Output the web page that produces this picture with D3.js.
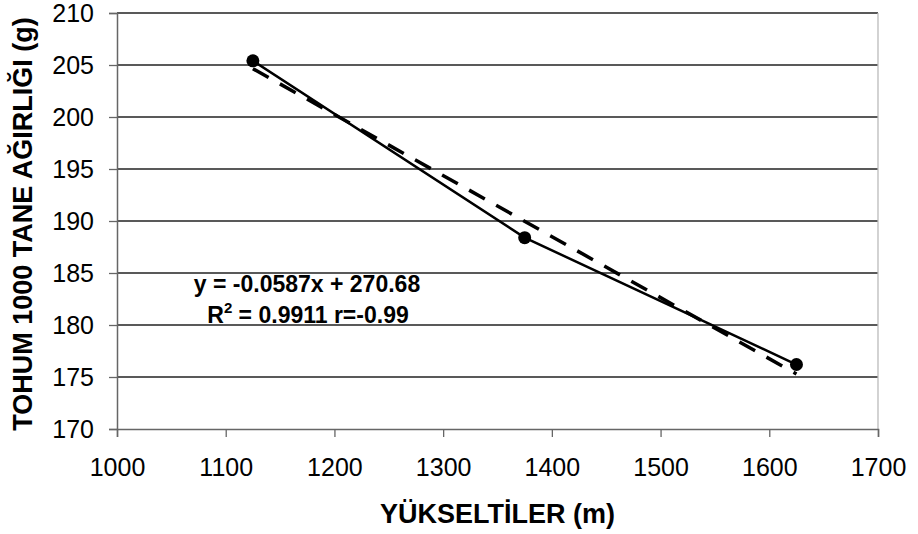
<!DOCTYPE html>
<html>
<head>
<meta charset="utf-8">
<script src="https://cdn.jsdelivr.net/npm/d3@7"></script>
<style>
  body { margin: 0; background: #fff; }
  text { font-family: Arial, "Liberation Sans", sans-serif; }
</style>
</head>
<body>
<div id="chart"></div>
<script>
// seed weight vs. altitude, with linear trend line

const altitudes = [1125, 1375, 1625];
const seedWeights = [205.4, 188.4, 176.2];
const trendSlope = -0.0587,
  trendIntercept = 270.68;
const xTicks = [1000, 1100, 1200, 1300, 1400, 1500, 1600, 1700];
const yTicks = [170, 175, 180, 185, 190, 195, 200, 205, 210];
const equationLines = ["y = -0.0587x + 270.68", "= 0.9911 r=-0.99"];

const width = 918,
  height = 534;
const margin = { top: 13, right: 40, bottom: 105, left: 117 };

const svg = d3.select("#chart")
  .append("svg")
  .attr("width", width)
  .attr("height", height);

const x = d3.scaleLinear()
  .domain([1000, 1700])
  .range([margin.left, width - margin.right]);

const y = d3.scaleLinear()
  .domain([170, 210])
  .range([height - margin.bottom, margin.top]);

// horizontal gridlines
svg.append("g")
  .selectAll("line")
  .data(yTicks.slice(1))
  .join("line")
  .attr("x1", x(1000))
  .attr("x2", x(1700))
  .attr("y1", d => y(d))
  .attr("y2", d => y(d))
  .attr("stroke", "#222")
  .attr("stroke-width", 1.3);

// right border of plot area
svg.append("line")
  .attr("x1", x(1700)).attr("x2", x(1700))
  .attr("y1", y(210)).attr("y2", y(170))
  .attr("stroke", "#bbb")
  .attr("stroke-width", 1.3);

const xAxis = svg.append("g")
  .attr("transform", `translate(0,${y(170)})`)
  .call(d3.axisBottom(x).tickValues(xTicks).tickFormat(d3.format("d")).tickSize(8).tickPadding(21));

const yAxis = svg.append("g")
  .attr("transform", `translate(${x(1000)},0)`)
  .call(d3.axisLeft(y).tickValues(yTicks).tickSize(8).tickPadding(15));

for (const ax of [xAxis, yAxis]) {
  ax.select(".domain").attr("stroke", "#666").attr("stroke-width", 1.5);
  ax.selectAll(".tick line").attr("stroke", "#666").attr("stroke-width", 1.3);
  ax.selectAll(".tick text")
    .attr("fill", "#000")
    .style("font-size", "25px")
    .style("font-family", "Arial, 'Liberation Sans', sans-serif");
}

// trend line (dashed)
const xMin = d3.min(altitudes), xMax = d3.max(altitudes);
svg.append("line")
  .attr("x1", x(xMin))
  .attr("y1", y(trendSlope * xMin + trendIntercept))
  .attr("x2", x(xMax))
  .attr("y2", y(trendSlope * xMax + trendIntercept))
  .attr("stroke", "#000")
  .attr("stroke-width", 3.5)
  .attr("stroke-dasharray", "18,13");

// data line + markers
const points = altitudes.map((a, i) => [a, seedWeights[i]]);
const line = d3.line().x(d => x(d[0])).y(d => y(d[1]));

svg.append("path")
  .datum(points)
  .attr("d", line)
  .attr("fill", "none")
  .attr("stroke", "#000")
  .attr("stroke-width", 2.5);

svg.append("g")
  .selectAll("circle")
  .data(points)
  .join("circle")
  .attr("cx", d => x(d[0]))
  .attr("cy", d => y(d[1]))
  .attr("r", 6.5)
  .attr("fill", "#000");

// equation text
const eq = svg.append("text")
  .attr("x", 308)
  .attr("y", 292)
  .attr("text-anchor", "middle")
  .style("font-size", "23px")
  .style("font-weight", "bold");
eq.append("tspan").attr("x", 307).text(equationLines[0]);
const line2 = eq.append("tspan").attr("x", 308).attr("dy", 31);
line2.append("tspan").text("R");
line2.append("tspan").attr("dy", -10).style("font-size", "15px").text("2");
line2.append("tspan").attr("dy", 10).text(" " + equationLines[1]);

// axis titles
svg.append("text")
  .attr("x", (x(1000) + x(1700)) / 2)
  .attr("y", 523)
  .attr("text-anchor", "middle")
  .style("font-size", "27px")
  .style("font-weight", "bold")
  .text("YÜKSELTİLER (m)");

svg.append("text")
  .attr("transform", `translate(32,${(y(170) + y(210)) / 2 + 3}) rotate(-90)`)
  .attr("text-anchor", "middle")
  .style("font-size", "27px")
  .style("font-weight", "bold")
  .text("TOHUM 1000 TANE AĞIRLIĞI (g)");
</script>
</body>
</html>
